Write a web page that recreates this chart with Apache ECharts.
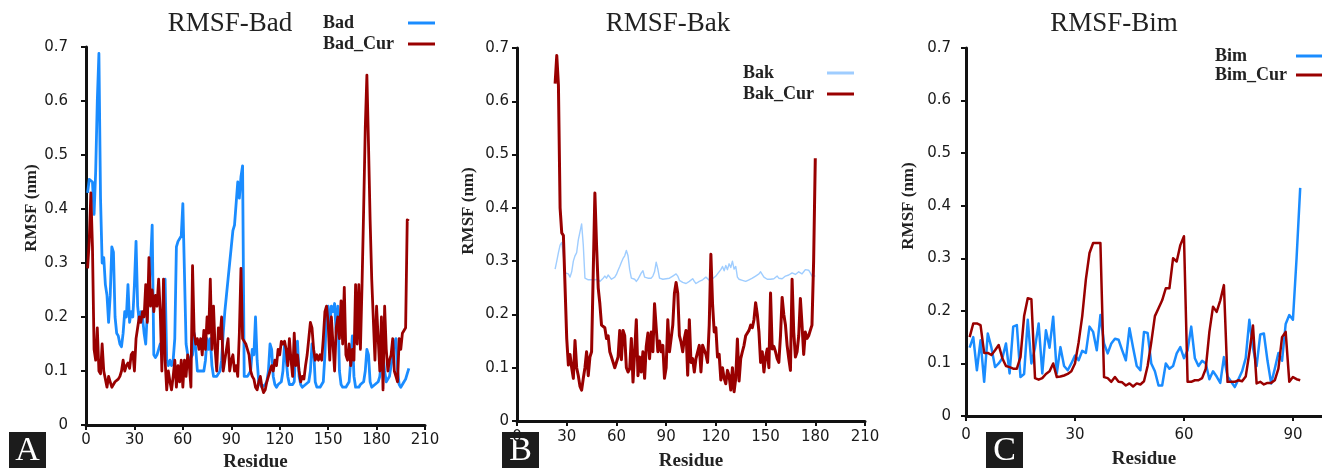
<!DOCTYPE html>
<html>
<head>
<meta charset="utf-8">
<script src="https://cdn.jsdelivr.net/npm/echarts@6/dist/echarts.min.js"></script>
<style>html,body{margin:0;padding:0;background:#fff;}#c{width:1322px;height:468px;}</style>
</head>
<body>
<div id="c"></div>
<script>
// ---------------- data ----------------
const panelTitles = ['RMSF-Bad', 'RMSF-Bak', 'RMSF-Bim'];
const panelLetters = ['A', 'B', 'C'];
const seriesNames = [['Bad', 'Bad_Cur'], ['Bak', 'Bak_Cur'], ['Bim', 'Bim_Cur']];
const yAxisTitle = 'RMSF (nm)';
const xAxisTitle = 'Residue';
const yTicks = [0, 0.1, 0.2, 0.3, 0.4, 0.5, 0.6, 0.7];
const xTicksAB = [0, 30, 60, 90, 120, 150, 180, 210];
const xTicksC = [0, 30, 60, 90];

const badStart = 1;
const bad = [
0.43,0.455,0.458,0.45,0.39,0.47,0.60,0.688,0.42,0.30,
0.31,0.26,0.24,0.19,0.24,0.33,0.32,0.20,0.17,0.165,
0.15,0.145,0.17,0.21,0.20,0.26,0.19,0.21,0.20,0.26,
0.34,0.22,0.19,0.21,0.20,0.17,0.15,0.21,0.24,0.30,
0.37,0.13,0.125,0.13,0.14,0.15,0.14,0.20,0.27,0.12,
0.11,0.12,0.11,0.12,0.16,0.33,0.34,0.34,0.35,0.41,
0.41,0.15,0.13,0.12,0.12,0.13,0.17,0.14,0.10,0.10,
0.10,0.10,0.10,0.12,0.16,0.14,0.16,0.11,0.09,0.09,
0.09,0.09,0.10,0.12,0.17,0.21,0.24,0.27,0.30,0.33,
0.36,0.37,0.37,0.45,0.42,0.46,0.48,0.09,0.09,0.09,
0.09,0.10,0.14,0.13,0.20,0.12,0.08,0.075,0.07,0.07,
0.075,0.08,0.10,0.15,0.14,0.09,0.075,0.07,0.075,0.075,
0.08,0.10,0.15,0.15,0.09,0.075,0.075,0.075,0.08,0.15,
0.155,0.09,0.075,0.07,0.07,0.075,0.075,0.08,0.10,0.15,
0.14,0.08,0.07,0.07,0.07,0.075,0.08,0.13,0.21,0.22,
0.18,0.22,0.21,0.225,0.17,0.22,0.10,0.075,0.07,0.07,
0.07,0.075,0.08,0.12,0.165,0.09,0.07,0.07,0.07,0.075,
0.075,0.08,0.10,0.14,0.13,0.08,0.07,0.07,0.075,0.075,
0.08,0.09,0.12,0.13,0.10,0.08,0.08,0.09,0.11,0.13,
0.15,0.16,0.10,0.075,0.07,0.075,0.08,0.085,0.095,0.105
];
const badCur = [
0.29,0.34,0.43,0.33,0.14,0.12,0.18,0.10,0.095,0.15,
0.10,0.10,0.07,0.09,0.08,0.07,0.075,0.08,0.08,0.085,
0.09,0.10,0.12,0.10,0.11,0.115,0.105,0.13,0.135,0.10,
0.16,0.18,0.20,0.19,0.21,0.20,0.26,0.19,0.31,0.22,
0.25,0.21,0.24,0.22,0.27,0.21,0.10,0.27,0.12,0.065,
0.10,0.08,0.065,0.09,0.12,0.07,0.11,0.08,0.12,0.07,
0.12,0.09,0.13,0.11,0.07,0.295,0.17,0.15,0.16,0.14,
0.16,0.13,0.175,0.14,0.20,0.17,0.27,0.14,0.22,0.14,
0.10,0.18,0.16,0.20,0.10,0.12,0.14,0.16,0.10,0.12,
0.13,0.10,0.11,0.09,0.17,0.29,0.16,0.16,0.15,0.14,
0.13,0.10,0.09,0.085,0.07,0.065,0.08,0.09,0.07,0.06,
0.065,0.08,0.09,0.10,0.11,0.10,0.12,0.11,0.14,0.13,
0.155,0.15,0.155,0.14,0.11,0.16,0.12,0.09,0.17,0.11,
0.13,0.10,0.08,0.09,0.085,0.11,0.13,0.16,0.19,0.18,
0.14,0.12,0.13,0.12,0.13,0.12,0.16,0.21,0.22,0.19,
0.12,0.20,0.15,0.10,0.18,0.20,0.16,0.23,0.15,0.255,
0.13,0.12,0.15,0.11,0.14,0.12,0.26,0.15,0.26,0.14,
0.26,0.40,0.55,0.648,0.52,0.38,0.27,0.27,0.12,0.22,
0.16,0.10,0.20,0.065,0.22,0.14,0.10,0.12,0.13,0.16,
0.10,0.09,0.08,0.16,0.14,0.17,0.17,0.18,0.38,0.378
];

const bakStart = 23;
const bak = [
0.285,0.30,0.316,0.33,0.335,0.31,0.278,0.28,0.276,0.27,
0.28,0.30,0.31,0.316,0.34,0.34,0.37,0.33,0.268,0.265,
0.265,0.264,0.265,0.263,0.265,0.264,0.266,0.262,0.264,0.268,
0.272,0.268,0.274,0.27,0.266,0.268,0.27,0.275,0.283,0.29,
0.298,0.305,0.31,0.32,0.31,0.284,0.268,0.27,0.266,0.262,
0.266,0.272,0.278,0.282,0.27,0.267,0.268,0.266,0.268,0.272,
0.28,0.298,0.285,0.268,0.266,0.266,0.265,0.267,0.266,0.268,
0.27,0.272,0.274,0.276,0.272,0.264,0.262,0.26,0.257,0.258,
0.26,0.262,0.265,0.267,0.262,0.258,0.26,0.262,0.264,0.265,
0.267,0.27,0.268,0.264,0.265,0.267,0.27,0.272,0.276,0.279,
0.284,0.29,0.282,0.292,0.284,0.295,0.288,0.30,0.285,0.29,
0.27,0.266,0.266,0.264,0.263,0.262,0.263,0.265,0.266,0.268,
0.27,0.272,0.274,0.276,0.28,0.278,0.27,0.268,0.266,0.265,
0.266,0.265,0.267,0.27,0.272,0.268,0.266,0.267,0.269,0.272,
0.271,0.274,0.276,0.278,0.276,0.275,0.278,0.28,0.278,0.276,
0.28,0.284,0.286,0.283,0.278,0.272,0.274,0.272
];
const bakCur = [
0.633,0.686,0.63,0.40,0.353,0.348,0.35,0.155,0.105,0.125,
0.10,0.08,0.151,0.10,0.085,0.065,0.058,0.08,0.10,0.13,
0.085,0.12,0.13,0.278,0.428,0.33,0.25,0.22,0.18,0.178,
0.175,0.155,0.16,0.13,0.12,0.11,0.10,0.098,0.12,0.17,
0.115,0.17,0.16,0.10,0.092,0.098,0.155,0.073,0.13,0.19,
0.085,0.12,0.092,0.13,0.08,0.14,0.165,0.117,0.167,0.13,
0.22,0.222,0.13,0.15,0.13,0.142,0.08,0.10,0.19,0.13,
0.13,0.18,0.24,0.26,0.24,0.16,0.148,0.13,0.155,0.17,
0.086,0.19,0.11,0.117,0.092,0.117,0.12,0.142,0.092,0.142,
0.14,0.125,0.11,0.18,0.313,0.22,0.167,0.175,0.12,0.125,
0.077,0.10,0.08,0.07,0.095,0.085,0.058,0.10,0.055,0.08,
0.154,0.075,0.117,0.13,0.142,0.16,0.16,0.17,0.18,0.175,
0.19,0.222,0.20,0.167,0.11,0.13,0.092,0.12,0.135,0.10,
0.24,0.135,0.14,0.13,0.117,0.11,0.16,0.232,0.20,0.18,
0.142,0.117,0.095,0.266,0.167,0.12,0.13,0.16,0.23,0.18,
0.125,0.167,0.155,0.16,0.17,0.18,0.30,0.493
];

const bimStart = 1;
const bim = [
0.13,0.15,0.087,0.144,0.065,0.157,0.13,0.093,0.10,0.11,
0.138,0.081,0.17,0.173,0.074,0.08,0.183,0.10,0.13,0.176,
0.081,0.163,0.13,0.189,0.081,0.131,0.095,0.087,0.10,0.115,
0.106,0.124,0.12,0.17,0.16,0.125,0.192,0.138,0.119,0.138,
0.147,0.145,0.125,0.106,0.167,0.13,0.095,0.087,0.16,0.158,
0.10,0.085,0.058,0.058,0.10,0.09,0.095,0.119,0.131,0.11,
0.125,0.17,0.11,0.095,0.105,0.10,0.07,0.085,0.075,0.063,
0.112,0.075,0.065,0.055,0.07,0.085,0.11,0.183,0.13,0.095,
0.155,0.157,0.105,0.062,0.09,0.12,0.105,0.175,0.192,0.183,
0.30,0.434
];
const bimCur = [
0.15,0.176,0.176,0.173,0.12,0.12,0.116,0.125,0.135,0.11,
0.095,0.093,0.09,0.09,0.112,0.19,0.224,0.222,0.072,0.069,
0.072,0.08,0.085,0.10,0.074,0.075,0.077,0.08,0.085,0.10,
0.14,0.19,0.26,0.31,0.329,0.329,0.329,0.074,0.072,0.065,
0.074,0.065,0.064,0.058,0.062,0.056,0.062,0.06,0.066,0.095,
0.14,0.19,0.205,0.22,0.243,0.243,0.30,0.294,0.325,0.342,
0.065,0.065,0.068,0.068,0.072,0.09,0.16,0.208,0.198,0.22,
0.249,0.065,0.065,0.065,0.068,0.066,0.075,0.12,0.172,0.062,
0.065,0.06,0.063,0.063,0.068,0.09,0.15,0.16,0.065,0.074,
0.07,0.068
];

// ---------------- styles ----------------
const BLUE = '#1a8cff';
const LIGHTBLUE = '#9fcdff';
const DARKRED = '#990000';
const SANS = 'DejaVu Sans';
const SERIF = 'Liberation Serif';
const INK = '#111';

function pairs(start, arr) { return arr.map((v, i) => [start + i, v]); }

// panel geometry (pixels)
const panels = [
  { left: 86, top: 47, width: 339, height: 378, xMax: 210, xTicks: xTicksAB, yOff: 10, xOff: 1,
    titleX: 230, legendLeft: 323, legendTop: 14, legendTextW: 80, legendGap: 3,
    yNameGap: 34, yNameShift: 56, xNameGap: 25, labelMarginX: 7 },
  { left: 517, top: 48, width: 348, height: 373, xMax: 210, xTicks: xTicksAB, yOff: 0, xOff: 0,
    titleX: 668, legendLeft: 743, legendTop: 64, legendTextW: 79, legendGap: 3,
    yNameGap: 40, yNameShift: 47, xNameGap: 31, labelMarginX: 9 },
  { left: 966, top: 48, width: 356, height: 368, xMax: 98, xTicks: xTicksC, yOff: 7, xOff: 2,
    titleX: 1114, legendLeft: 1215, legendTop: 47, legendTextW: 76, legendGap: 1,
    yNameGap: 42, yNameShift: 52, xNameGap: 32, labelMarginX: 10 }
];
const data = [[bad, badStart, badCur, badStart], [bak, bakStart, bakCur, bakStart], [bim, bimStart, bimCur, bimStart]];
const colors = [[BLUE, DARKRED], [LIGHTBLUE, DARKRED], [BLUE, DARKRED]];
const widths = [[2.8, 2.8], [1.4, 3], [2.5, 2.5]];

const axisLine = { show: true, lineStyle: { color: INK, width: 3 } };
const axisTick = { show: true, length: 5, lineStyle: { color: INK, width: 2 } };
const tickLabel = { color: '#1a1a1a', fontFamily: SANS, fontSize: 15 };

const option = {
  animation: false,
  backgroundColor: '#fff',
  title: panels.map((p, i) => ({
    text: panelTitles[i], left: p.titleX, top: 10, textAlign: 'center', padding: 0,
    textStyle: { fontFamily: SERIF, fontWeight: 'normal', fontSize: 27, color: '#222' }
  })),
  legend: panels.map((p, i) => ({
    data: seriesNames[i], orient: 'vertical', left: p.legendLeft, top: p.legendTop,
    align: 'right', padding: 0, itemGap: p.legendGap, itemWidth: 27, itemHeight: 3,
    icon: 'rect', selectedMode: false,
    formatter: '{t|{name}}',
    textStyle: {
      fontFamily: SERIF, fontWeight: 'bold', fontSize: 18, color: '#222',
      rich: { t: { width: p.legendTextW, align: 'left', fontFamily: SERIF, fontWeight: 'bold', fontSize: 18, color: '#222', lineHeight: 20 } }
    }
  })),
  grid: panels.map(p => ({ left: p.left, top: p.top, width: p.width, height: p.height, containLabel: false, outerBoundsMode: 'none' })),
  xAxis: panels.map((p, i) => ({
    type: 'value', gridIndex: i, min: 0, max: p.xMax, interval: 30, offset: p.xOff,
    axisLine, axisTick: Object.assign({}, axisTick, { customValues: p.xTicks }),
    axisLabel: Object.assign({}, tickLabel, { margin: p.labelMarginX, customValues: p.xTicks }),
    splitLine: { show: false },
    name: xAxisTitle, nameLocation: 'middle', nameGap: p.xNameGap,
    nameTextStyle: { fontFamily: SERIF, fontWeight: 'bold', fontSize: 19, color: '#222' }
  })),
  yAxis: panels.map((p, i) => ({
    type: 'value', gridIndex: i, min: 0, max: 0.7, interval: 0.1, offset: p.yOff,
    axisLine, axisTick,
    axisLabel: Object.assign({}, tickLabel, { margin: 8, formatter: v => String(+v.toFixed(1)) }),
    splitLine: { show: false },
    name: yAxisTitle, nameLocation: 'middle', nameGap: p.yNameGap,
    nameTextStyle: { fontFamily: SERIF, fontWeight: 'bold', fontSize: 17, color: '#222', padding: [0, 0, 0, p.yNameShift] }
  })),
  series: [],
  graphic: panelLetters.map((L, i) => ({
    type: 'group', left: [9, 502, 986][i], top: 432, z: 100,
    children: [
      { type: 'rect', shape: { x: 0, y: 0, width: 37, height: 36 }, style: { fill: '#1c1c1c' } },
      { type: 'text', x: 18.5, y: 19, style: { text: L, fill: '#fff', font: '34px "Liberation Serif"', textAlign: 'center', textVerticalAlign: 'middle' } }
    ]
  }))
};

data.forEach((d, i) => {
  [0, 1].forEach(k => {
    option.series.push({
      type: 'line', name: seriesNames[i][k], xAxisIndex: i, yAxisIndex: i,
      data: pairs(d[k * 2 + 1], d[k * 2]),
      symbol: 'none', smooth: false,
      lineStyle: { color: colors[i][k], width: widths[i][k], join: 'round' },
      itemStyle: { color: colors[i][k] }
    });
  });
});

const chart = echarts.init(document.getElementById('c'), null, { renderer: 'canvas' });
chart.setOption(option);
</script>
</body>
</html>
